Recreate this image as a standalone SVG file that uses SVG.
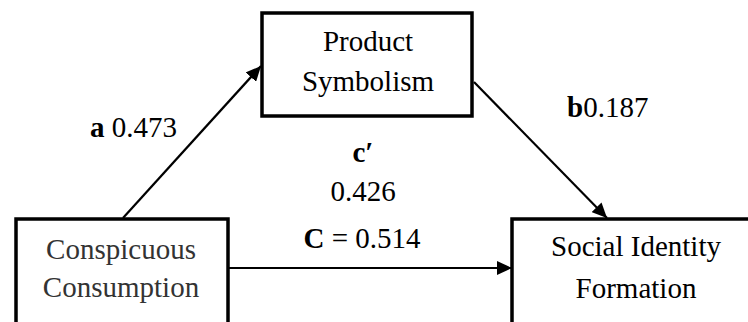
<svg xmlns="http://www.w3.org/2000/svg" width="748" height="322" viewBox="0 0 748 322">
<style>
.box{fill:#fff;stroke:#000;stroke-width:3.5}
text{font-family:'Liberation Serif','DejaVu Serif',serif;font-size:29px;fill:#000}
.m{text-anchor:middle}
.g{fill:#333}
.b{font-weight:bold}
.c{stroke:#000;stroke-width:2.2;fill:none;marker-end:url(#ah)}
</style>
<defs>
<marker id="ah" markerUnits="userSpaceOnUse" markerWidth="16" markerHeight="14" refX="15" refY="7" orient="auto">
<path d="M0,0 L15,7 L0,14 Z" fill="#000"/>
</marker>
</defs>
<rect width="748" height="322" fill="#fff"/>
<g id="connectors">
<line class="c" x1="123" y1="218" x2="261" y2="66"/>
<line class="c" x1="474" y1="82" x2="607" y2="218"/>
<line class="c" x1="229" y1="268" x2="512" y2="268"/>
</g>
<g id="product-symbolism">
<rect class="box" x="262" y="13" width="210" height="103"/>
<text class="m" x="368" y="51" font-family="Liberation Serif, serif">Product</text>
<text class="m" x="368" y="91" font-family="Liberation Serif, serif">Symbolism</text>
</g>
<g id="conspicuous-consumption">
<rect class="box" x="16" y="219" width="212" height="120"/>
<text class="m g" x="121" y="259">Conspicuous</text>
<text class="m g" x="121" y="297">Consumption</text>
</g>
<g id="social-identity-formation">
<rect class="box" x="512" y="219" width="250" height="120"/>
<text class="m" x="636" y="256">Social Identity</text>
<text class="m" x="636" y="298">Formation</text>
</g>
<g id="labels">
<text x="90" y="137"><tspan class="b">a</tspan> 0.473</text>
<text x="567" y="117"><tspan class="b">b</tspan>0.187</text>
<text class="b m" x="363" y="162">c′</text>
<text class="m" x="363" y="201">0.426</text>
<text class="m" x="362" y="248"><tspan class="b">C</tspan> = 0.514</text>
</g>
</svg>
